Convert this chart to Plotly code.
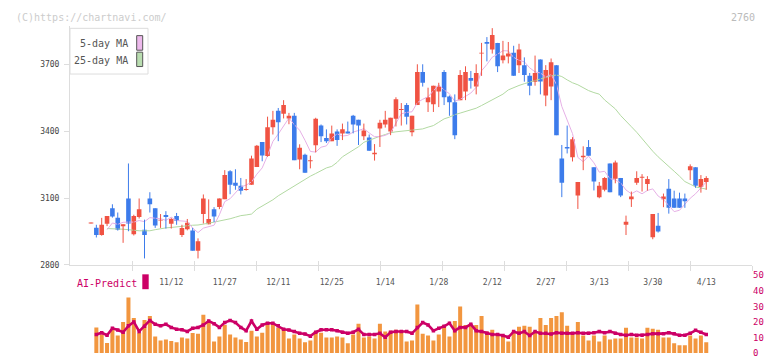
import plotly.graph_objects as go

# ---------------- data ----------------
tick_labels = ["11/12", "11/27", "12/11", "12/25", "1/14", "1/28", "2/12", "2/27", "3/13", "3/30", "4/13"]
tick_index = [15, 25, 35, 45, 55, 65, 75, 85, 95, 105, 115]

opens = [2986, 2967, 2934, 2985, 3054, 3011, 2973, 3098, 2937, 3015,
         2958, 3098, 3054, 2999, 3024, 2985, 3019, 2934, 2960, 2954,
         2864, 3028, 2982, 3050, 3060, 3095, 3220, 3168, 3155, 3136,
         3159, 3239, 3351, 3289, 3417, 3491, 3478, 3457, 3469, 3273,
         3294, 3265, 3337, 3425, 3369, 3355, 3399, 3390, 3399, 3469,
         3451, 3377, 3371, 3296, 3412, 3430, 3399, 3456, 3495, 3517,
         3395, 3517, 3665, 3530, 3521, 3578, 3665, 3556, 3530, 3539,
         3578, 3639, 3600, 3748, 3800, 3766, 3796, 3718, 3735, 3752,
         3696, 3696, 3648, 3622, 3722, 3560, 3600, 3696, 3277, 3329,
         3283, 3111, 3283, 3329, 3238, 3104, 3137, 3255, 3187, 3190,
         2980, 3094, 3168, 3191, 3163, 2924, 2976, 3094, 3142, 3098,
         3098, 3098, 3225, 3238, 3150, 3172]
highs = [2990, 2980, 3011, 3019, 3072, 3035, 2982, 3255, 3025, 3098,
         3003, 3126, 3054, 3028, 3041, 3011, 3033, 2980, 3006, 2966,
         2919, 3116, 3094, 3059, 3098, 3225, 3225, 3229, 3190, 3185,
         3290, 3338, 3351, 3465, 3491, 3504, 3539, 3482, 3482, 3341,
         3299, 3290, 3460, 3430, 3408, 3425, 3408, 3434, 3443, 3473,
         3451, 3434, 3385, 3342, 3451, 3491, 3460, 3552, 3526, 3526,
         3469, 3700, 3700, 3595, 3604, 3617, 3674, 3560, 3565, 3674,
         3691, 3670, 3700, 3796, 3822, 3862, 3796, 3805, 3800, 3783,
         3792, 3731, 3661, 3739, 3722, 3696, 3726, 3696, 3338, 3425,
         3373, 3172, 3332, 3360, 3238, 3172, 3194, 3255, 3268, 3190,
         3021, 3129, 3220, 3207, 3198, 3028, 3033, 3120, 3185, 3133,
         3124, 3120, 3251, 3238, 3203, 3198]
lows = [2986, 2923, 2931, 2974, 3012, 2954, 2899, 2951, 2932, 3008,
        2829, 3035, 2966, 2966, 2963, 2963, 2980, 2925, 2955, 2864,
        2829, 2986, 2982, 2992, 3050, 3095, 3117, 3137, 3116, 3133,
        3159, 3239, 3265, 3285, 3385, 3355, 3457, 3431, 3270, 3229,
        3213, 3233, 3305, 3351, 3347, 3355, 3334, 3360, 3390, 3390,
        3338, 3360, 3312, 3268, 3329, 3416, 3382, 3421, 3425, 3430,
        3377, 3517, 3600, 3486, 3486, 3508, 3517, 3469, 3364, 3539,
        3539, 3591, 3565, 3648, 3713, 3748, 3665, 3704, 3704, 3648,
        3661, 3622, 3561, 3604, 3565, 3512, 3539, 3382, 3104, 3300,
        3264, 3051, 3225, 3290, 3134, 3099, 3130, 3126, 3166, 3104,
        2934, 3060, 3159, 3129, 3133, 2915, 2945, 3059, 3030, 3056,
        3056, 3056, 3181, 3146, 3124, 3137]
closes = [2989, 2934, 2980, 3019, 3017, 2958, 2982, 2986, 3019, 3050,
          2934, 3072, 2977, 3001, 3015, 3006, 2998, 2966, 2989, 2864,
          2906, 3098, 3006, 3017, 3098, 3203, 3159, 3155, 3133, 3138,
          3277, 3334, 3291, 3417, 3451, 3440, 3517, 3469, 3270, 3325,
          3213, 3268, 3456, 3377, 3355, 3390, 3360, 3408, 3390, 3430,
          3425, 3403, 3312, 3303, 3438, 3451, 3460, 3543, 3499, 3465,
          3469, 3665, 3617, 3552, 3604, 3600, 3552, 3530, 3382, 3652,
          3665, 3626, 3661, 3752, 3792, 3831, 3691, 3739, 3748, 3648,
          3766, 3652, 3604, 3661, 3623, 3674, 3709, 3382, 3169, 3322,
          3364, 3172, 3290, 3290, 3174, 3155, 3190, 3126, 3259, 3111,
          2993, 3107, 3190, 3194, 3185, 3028, 2950, 3107, 3056, 3056,
          3056, 3086, 3242, 3155, 3185, 3190]

ma5 = [None, None, None, 2958,
       2988, 2982, 2991, 2992, 2992, 2999, 2994, 3012, 3010, 3007,
       3000, 3014, 2999, 2997, 2995, 2965, 2945, 2965, 2973, 2978,
       3025, 3084, 3097, 3126, 3150, 3158, 3172, 3207, 3235, 3291,
       3354, 3387, 3423, 3459, 3429, 3404, 3359, 3309, 3306, 3328,
       3334, 3369, 3388, 3378, 3381, 3396, 3403, 3411, 3392, 3375,
       3376, 3381, 3393, 3439, 3478, 3484, 3487, 3528, 3543, 3554,
       3581, 3608, 3585, 3568, 3534, 3543, 3556, 3571, 3597, 3671,
       3699, 3732, 3745, 3761, 3760, 3731, 3718, 3711, 3684, 3666,
       3661, 3643, 3654, 3610, 3511, 3451, 3389, 3282, 3263, 3288,
       3258, 3216, 3220, 3187, 3181, 3168, 3136, 3119, 3132, 3119,
       3134, 3141, 3109, 3093, 3065, 3039, 3045, 3072, 3099, 3119,
       3145, 3172]
ma25 = [None, None, None, 2963,
        2963, 2962, 2960, 2958, 2955, 2953, 2953, 2953, 2958, 2963,
        2966, 2968, 2971, 2974, 2976, 2978, 2979, 2982, 2987, 2992,
        2996, 3001, 3007, 3014, 3021, 3024, 3028, 3050, 3065, 3076,
        3092, 3110, 3125, 3140, 3155, 3168, 3182, 3198, 3210, 3222,
        3235, 3242, 3260, 3285, 3300, 3318, 3330, 3350, 3360, 3370,
        3377, 3385, 3393, 3397, 3400, 3403, 3405, 3407, 3410, 3418,
        3425, 3440, 3455, 3463, 3474, 3481, 3488, 3494, 3503, 3515,
        3528, 3540, 3552, 3566, 3585, 3596, 3605, 3613, 3620, 3627,
        3635, 3642, 3648, 3652, 3645, 3630, 3617, 3608, 3593, 3582,
        3573, 3566, 3540, 3518, 3500, 3470, 3443, 3420, 3395, 3365,
        3335, 3310, 3285, 3262, 3240, 3220, 3198, 3174, 3162, 3150,
        3145, 3140]

volume = [None,
          16.5, 11.9, 6.5, 14.8, 11.3, 20.0, 35.8, 22.5, 12.9, 21.3,
          23.8, 10.6, 8.1, 8.8, 7.7, 6.9, 10.0, 9.4, 12.9, 12.5,
          24.6, 19.4, 7.5, 10.6, 18.1, 11.9, 10.0, 8.8, 7.1, 14.4,
          10.6, 13.1, 20.0, 19.4, 16.3, 15.6, 9.4, 11.9, 9.4, 6.9,
          8.1, 13.8, 13.1, 10.0, 10.0, 10.6, 10.0, 6.3, 11.9, 18.8,
          10.0, 10.6, 9.4, 18.8, 13.8, 14.4, 15.0, 13.8, 7.5, 8.1,
          31.3, 12.5, 11.3, 8.1, 11.9, 18.1, 10.6, 20.6, 30.0, 18.1,
          18.1, 18.1, 23.8, 13.8, 15.0, 11.9, 11.3, 7.5, 13.8, 16.9,
          17.5, 16.9, 13.8, 22.5, 18.1, 22.5, 23.8, 26.3, 17.5, 11.9,
          20.0, 11.3, 8.1, 11.3, 7.5, 11.3, 8.8, 9.4, 9.4, 16.3,
          10.0, 10.0, 9.4, 16.3, 15.6, 15.0, 10.0, 10.0, 6.3, 5.0,
          5.0, 11.3, 9.4, 11.3, 6.9]
ai_predict = [None,
              11.9, 13.1, 11.5, 15.9, 14.8, 13.4, 17.5, 20.0, 13.9, 17.3,
              21.0, 18.5, 17.5, 18.5, 16.5, 15.3, 15.0, 13.9, 15.9, 16.5,
              18.1, 20.6, 18.9, 16.5, 19.6, 21.0, 19.6, 16.5, 14.4, 20.6,
              15.3, 18.1, 19.2, 19.2, 17.5, 15.3, 14.8, 13.9, 12.7, 12.3,
              10.9, 13.4, 15.0, 15.0, 15.0, 14.4, 13.4, 12.7, 13.4, 15.3,
              11.9, 11.9, 11.9, 12.7, 10.2, 13.4, 13.9, 13.9, 13.9, 12.7,
              16.5, 19.6, 18.1, 14.4, 15.9, 17.2, 19.2, 14.4, 16.5, 16.5,
              18.5, 14.4, 13.8, 12.7, 11.9, 11.9, 11.3, 10.2, 13.8, 12.7,
              13.8, 11.3, 13.8, 12.7, 12.7, 12.3, 13.1, 12.7, 12.7, 12.7,
              13.1, 12.7, 12.7, 13.1, 13.8, 13.1, 13.8, 12.7, 11.9, 11.5,
              11.9, 11.5, 11.5, 11.9, 12.5, 12.5, 12.5, 13.1, 12.5, 11.5,
              11.5, 12.7, 14.6, 13.4, 11.9]

# ---------------- styling ----------------
W, H = 772, 361
RED = "#F05343"
BLUE = "#3D7CEB"
PINK = "#E6B0E6"
GREEN = "#B2D9A2"
CRIMSON = "#CC0066"
ORANGE = "#F2963F"
AXIS = "#DDDDDD"
MONO = "DejaVu Sans Mono"

def px(x):
    return x / W

def py(y):
    return (H - y) / H

n = len(closes)
idx = list(range(n))
colors = [RED if closes[i] >= opens[i] else BLUE for i in idx]
body_base = [min(opens[i], closes[i]) for i in idx]
body_h = [max(abs(closes[i] - opens[i]), 4) for i in idx]

fig = go.Figure()

# moving averages
fig.add_trace(go.Scatter(x=idx, y=ma25, mode="lines", line=dict(color=GREEN, width=1),
                         hoverinfo="skip"))
fig.add_trace(go.Scatter(x=idx, y=ma5, mode="lines", line=dict(color=PINK, width=1),
                         hoverinfo="skip"))

# wicks
for col in (RED, BLUE):
    wx, wy = [], []
    for i in idx:
        if colors[i] == col:
            wx += [i, i, None]
            wy += [lows[i], highs[i], None]
    fig.add_trace(go.Scatter(x=wx, y=wy, mode="lines", line=dict(color=col, width=1),
                             hoverinfo="skip"))

# bodies
fig.add_trace(go.Bar(x=idx, y=body_h, base=body_base, width=0.86,
                     marker=dict(color=colors, line=dict(width=0)), hoverinfo="skip"))

# volume + AI predict
fig.add_trace(go.Bar(x=idx, y=volume, width=0.75, marker=dict(color=ORANGE, line=dict(width=0)),
                     xaxis="x2", yaxis="y2", hoverinfo="skip"))
fig.add_trace(go.Scatter(x=idx, y=ai_predict, mode="lines+markers",
                         line=dict(color=CRIMSON, width=2.6),
                         marker=dict(symbol="square", size=3.5, color=CRIMSON),
                         xaxis="x2", yaxis="y2", hoverinfo="skip"))

# dummy traces so the tick-only axes are drawn
fig.add_trace(go.Scatter(x=[None], y=[None], xaxis="x3", yaxis="y", showlegend=False))
fig.add_trace(go.Scatter(x=[None], y=[None], xaxis="x4", yaxis="y", showlegend=False))

xdom = [px(70), px(752)]
xr = [-3.925, 123.55]

fig.update_layout(
    width=W, height=H,
    margin=dict(l=0, r=0, t=0, b=0),
    paper_bgcolor="white", plot_bgcolor="white",
    showlegend=False, barmode="overlay", hovermode=False,
    font=dict(family=MONO),
    xaxis=dict(domain=xdom, range=xr, anchor="y", showgrid=False, zeroline=False,
               showline=True, linecolor=AXIS, linewidth=1,
               tickmode="array", tickvals=tick_index, ticktext=tick_labels,
               ticks="", tickfont=dict(family=MONO, size=8, color="#555555"),
               ticklabelstandoff=10),
    xaxis3=dict(overlaying="x", anchor="y", range=[0, 11], showgrid=False, zeroline=False,
                showline=False, tickmode="array", tickvals=list(range(1, 12)),
                ticks="outside", ticklen=5, tickcolor=AXIS, tickwidth=1, showticklabels=False),
    xaxis4=dict(overlaying="x", anchor="y", range=[0, 11], showgrid=False, zeroline=False,
                showline=False, tickmode="array", tickvals=list(range(1, 12)),
                ticks="inside", ticklen=4, tickcolor=AXIS, tickwidth=1, showticklabels=False),
    yaxis=dict(domain=[py(267.3), py(22)], range=[2800, 3870], showgrid=False, zeroline=False,
               showline=True, linecolor=AXIS, linewidth=1,
               tickmode="array", tickvals=[2800, 3100, 3400, 3700],
               ticks="outside", ticklen=5, tickcolor=AXIS,
               tickfont=dict(family=MONO, size=8, color="#444444"), ticklabelstandoff=3),
    xaxis2=dict(domain=xdom, range=xr, anchor="y2", visible=False),
    yaxis2=dict(domain=[py(358), py(278)], range=[0, 50], anchor="x2", side="right",
                showgrid=False, zeroline=False, showline=False, ticks="",
                tickmode="array", tickvals=[0, 10, 20, 30, 40, 50],
                tickfont=dict(family=MONO, size=9, color=CRIMSON)),
)

annotations = [
    dict(text="(C)https://chartnavi.com/", x=px(14), y=py(12.5), xanchor="left", yanchor="middle",
         font=dict(family=MONO, size=10, color="#CCCCCC")),
    dict(text="2760", x=px(757), y=py(12.5), xanchor="right", yanchor="middle",
         font=dict(family=MONO, size=10, color="#BBBBBB")),
    dict(text="5-day MA", x=px(130), y=py(40), xanchor="right", yanchor="middle",
         font=dict(family=MONO, size=10, color="#555555")),
    dict(text="25-day MA", x=px(130), y=py(57), xanchor="right", yanchor="middle",
         font=dict(family=MONO, size=10, color="#555555")),
    dict(text="AI-Predict", x=px(75), y=py(286.5), xanchor="left", yanchor="middle",
         font=dict(family=MONO, size=10, color=CRIMSON)),
]
for a in annotations:
    a.update(xref="paper", yref="paper", showarrow=False)
fig.update_layout(annotations=annotations)

shapes = [
    dict(type="rect", x0=px(70), x1=px(148), y0=py(71), y1=py(24),
         line=dict(color=AXIS, width=1), fillcolor="white", layer="above"),
    dict(type="rect", x0=px(136.7), x1=px(142.7), y0=py(46.5), y1=py(31.5),
         line=dict(color="#555555", width=1), fillcolor="#EDB9EC", layer="above"),
    dict(type="rect", x0=px(136.7), x1=px(142.7), y0=py(63.3), y1=py(48.5),
         line=dict(color="#555555", width=1), fillcolor="#B9DDB0", layer="above"),
    dict(type="rect", x0=px(142.3), x1=px(148.7), y0=py(292.3), y1=py(277),
         line=dict(width=0), fillcolor=CRIMSON, layer="above"),
]
for s in shapes:
    s.update(xref="paper", yref="paper")
fig.update_layout(shapes=shapes)

fig.write_html("out.html",
               config={"displayModeBar": False, "staticPlot": True},
               post_script="document.body.style.margin='0';document.body.style.overflow='hidden';")
